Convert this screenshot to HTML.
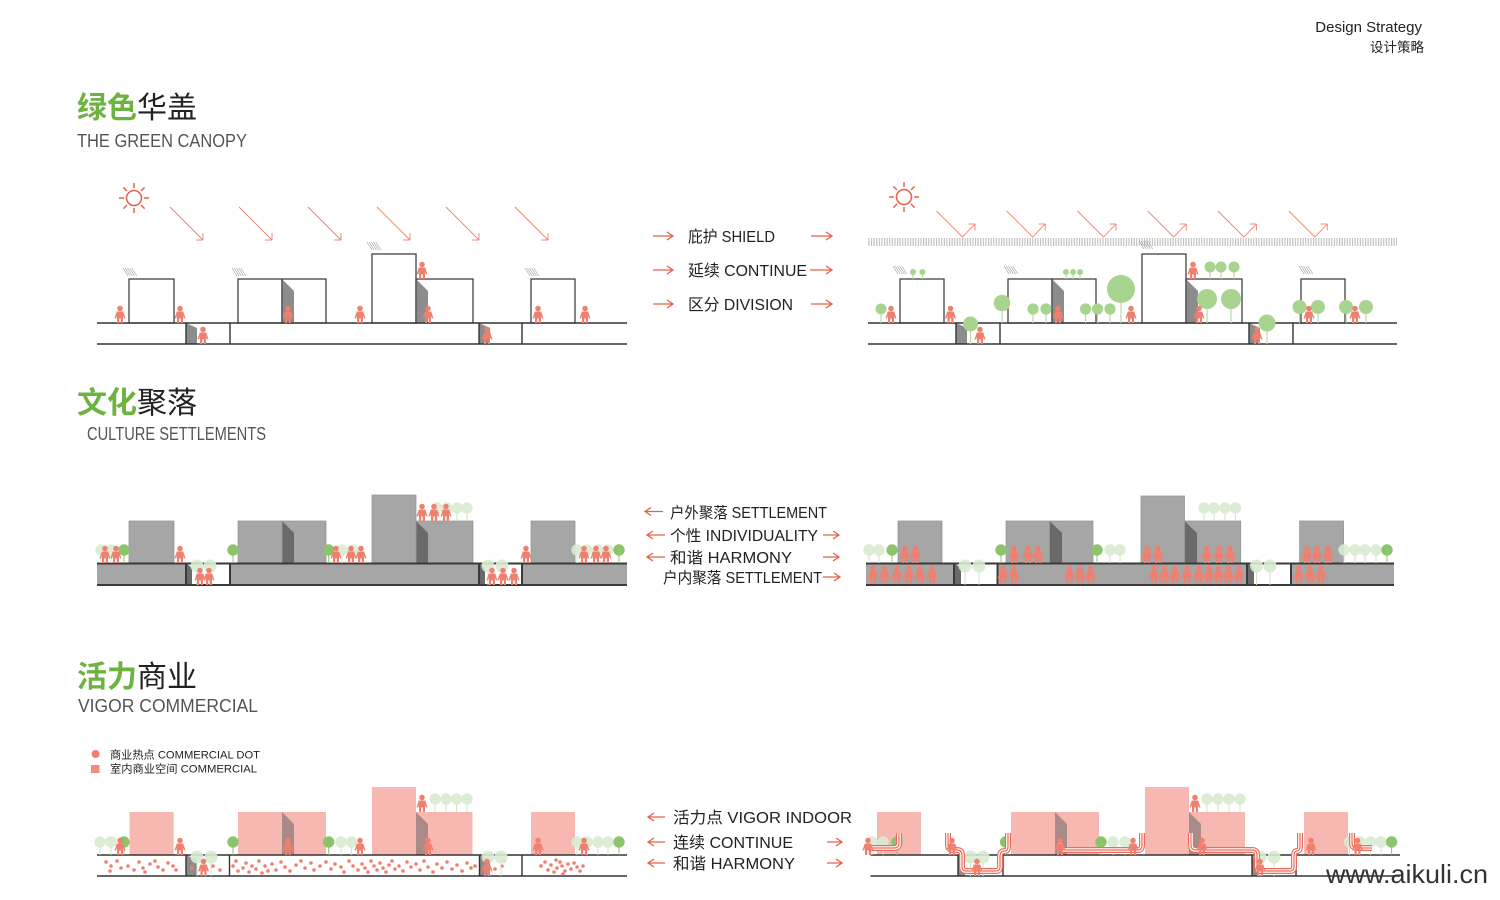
<!DOCTYPE html>
<html><head><meta charset="utf-8"><style>
html,body{margin:0;padding:0;background:#fff;}
svg{display:block;}
text{font-family:"Liberation Sans","Noto Sans CJK SC",sans-serif;}
</style></head><body>
<svg width="1500" height="900" viewBox="0 0 1500 900" xmlns="http://www.w3.org/2000/svg">
<defs>
<g id="p" fill="#ef7f6f"><g transform="scale(1.15)"><circle cx="0" cy="-12.6" r="2.4"/><path d="M-2.8,-10 H2.8 L4.8,-4 H3.3 L2.6,-6.5 V0 H0.7 V-4 H-0.7 V0 H-2.6 V-6.5 L-3.3,-4 H-4.8 Z"/></g></g>
<g id="h" stroke="#9a9a9a" stroke-width="0.6"><line x1="0" y1="0" x2="5" y2="8"/><line x1="2.2" y1="0" x2="7.2" y2="8"/><line x1="4.4" y1="0" x2="9.4" y2="8"/><line x1="6.6" y1="0" x2="11.6" y2="8"/><line x1="8.8" y1="0" x2="13.8" y2="8"/></g>
<g id="tp"><line x1="0" y1="0" x2="0" y2="-9" stroke="#cfe5c3" stroke-width="1"/><circle cy="-13" r="5.7" fill="#d9ebd0" opacity="0.9"/></g>
<g id="td"><line x1="0" y1="0" x2="0" y2="-9" stroke="#8cc46c" stroke-width="1"/><circle cy="-13" r="5.7" fill="#8cc46c"/></g>
<g id="tpit"><line x1="0" y1="0" x2="0" y2="-14" stroke="#cfe5c3" stroke-width="1"/><circle cy="-19" r="6.5" fill="#d9ebd0" opacity="0.9"/></g>
<g id="sun" stroke="#e8604c" stroke-width="1.5" fill="none"><circle r="7.5"/><line x1="0" y1="-10" x2="0" y2="-15"/><line x1="0" y1="10" x2="0" y2="15"/><line x1="10" y1="0" x2="15" y2="0"/><line x1="-10" y1="0" x2="-15" y2="0"/><line x1="7" y1="7" x2="10.6" y2="10.6"/><line x1="-7" y1="7" x2="-10.6" y2="10.6"/><line x1="7" y1="-7" x2="10.6" y2="-10.6"/><line x1="-7" y1="-7" x2="-10.6" y2="-10.6"/></g>
<g id="ra" stroke="#ef7f6f" stroke-width="0.9" fill="none"><line x1="0" y1="0" x2="33" y2="33"/><line x1="26" y1="33" x2="33" y2="33"/><line x1="33" y1="26" x2="33" y2="33"/></g>
<g id="rr" stroke="#ef7f6f" stroke-width="0.9" fill="none"><polyline points="0,0 26,26 38.5,13"/><line x1="32" y1="13" x2="38.5" y2="13"/><line x1="38.5" y1="13" x2="38.5" y2="19.5"/></g>
<pattern id="vh" width="2.6" height="10" patternUnits="userSpaceOnUse"><rect x="0" y="0" width="1.1" height="10" fill="#bdbdbd"/></pattern>
</defs>

<!-- header -->
<text x="1422" y="32" font-size="15" fill="#222" text-anchor="end">Design Strategy</text>
<text x="1424" y="52" font-size="13.5" fill="#222" text-anchor="end">设计策略</text>

<!-- titles -->
<text x="77" y="118" font-size="30"><tspan fill="#6db33f" font-weight="bold">绿色</tspan><tspan fill="#222">华盖</tspan></text>
<text x="77" y="147" font-size="18" fill="#555" textLength="170" lengthAdjust="spacingAndGlyphs">THE GREEN CANOPY</text>
<text x="77" y="413" font-size="30"><tspan fill="#6db33f" font-weight="bold">文化</tspan><tspan fill="#222">聚落</tspan></text>
<text x="87" y="440" font-size="18" fill="#555" textLength="179" lengthAdjust="spacingAndGlyphs">CULTURE SETTLEMENTS</text>
<text x="77" y="687" font-size="30"><tspan fill="#6db33f" font-weight="bold">活力</tspan><tspan fill="#222">商业</tspan></text>
<text x="78" y="712" font-size="18" fill="#555" textLength="180" lengthAdjust="spacingAndGlyphs">VIGOR COMMERCIAL</text>

<!-- ============ SECTION 1 LEFT ============ -->
<use href="#sun" x="134" y="198"/>
<use href="#ra" x="170" y="207"/><use href="#ra" x="239" y="207"/><use href="#ra" x="308" y="207"/><use href="#ra" x="377" y="207"/><use href="#ra" x="446" y="207"/><use href="#ra" x="515" y="207"/>
<use href="#h" x="123" y="268"/><use href="#h" x="232" y="268"/><use href="#h" x="367" y="242"/><use href="#h" x="525" y="268"/>
<g fill="#fff" stroke="#333" stroke-width="1.2">
<rect x="129" y="279" width="45" height="44"/><rect x="238" y="279" width="44" height="44"/><rect x="282" y="279" width="44" height="44"/><rect x="372" y="254" width="44" height="69"/><rect x="416" y="279" width="57" height="44"/><rect x="531" y="279" width="44" height="44"/>
</g>
<g fill="#8c8c8c">
<polygon points="282.6,279.6 294,291 294,323 282.6,323"/><polygon points="416.6,279.6 428,291 428,323 416.6,323"/>
<polygon points="186,323 197,328 197,344 186,344"/><polygon points="479,323 490,328 490,344 479,344"/>
</g>
<g stroke="#333" stroke-width="1.4">
<line x1="97" y1="323" x2="627" y2="323"/><line x1="97" y1="344" x2="627" y2="344"/>
<line x1="186" y1="323" x2="186" y2="344"/><line x1="230" y1="323" x2="230" y2="344"/><line x1="479" y1="323" x2="479" y2="344"/><line x1="522" y1="323" x2="522" y2="344"/>
</g>
<use href="#p" x="120" y="323"/><use href="#p" x="180" y="323"/><use href="#p" x="288" y="323"/><use href="#p" x="360" y="323"/><use href="#p" x="428" y="323"/><use href="#p" x="538" y="323"/><use href="#p" x="585" y="323"/>
<use href="#p" x="422" y="279"/><use href="#p" x="203" y="344"/><use href="#p" x="487" y="344"/>

<!-- middle text 1 -->
<g stroke="#e8604c" stroke-width="1.3" fill="none">
<path d="M653,236 H673 M667,232 L673,236 L667,240"/><path d="M811,236 H832 M826,232 L832,236 L826,240"/>
<path d="M653,270 H673 M667,266 L673,270 L667,274"/><path d="M810,270 H832 M826,266 L832,270 L826,274"/>
<path d="M653,304 H673 M667,300 L673,304 L667,308"/><path d="M811,304 H832 M826,300 L832,304 L826,308"/>
</g>
<g font-size="16" fill="#222">
<text x="688" y="242" textLength="87" lengthAdjust="spacingAndGlyphs">庇护 SHIELD</text>
<text x="688" y="276" textLength="119" lengthAdjust="spacingAndGlyphs">延续 CONTINUE</text>
<text x="688" y="310" textLength="105" lengthAdjust="spacingAndGlyphs">区分 DIVISION</text>
</g>

<!-- ============ SECTION 1 RIGHT ============ -->
<use href="#sun" x="904" y="197"/>
<use href="#rr" x="936.5" y="211"/><use href="#rr" x="1006.7" y="211"/><use href="#rr" x="1077.5" y="211"/><use href="#rr" x="1147.7" y="211"/><use href="#rr" x="1217.9" y="211"/><use href="#rr" x="1288.8" y="211"/>
<rect x="868" y="238" width="529" height="8" fill="url(#vh)"/>
<use href="#h" x="893" y="266"/><use href="#h" x="1004" y="266"/><use href="#h" x="1139" y="241"/><use href="#h" x="1299" y="266"/>
<g fill="#fff" stroke="#333" stroke-width="1.2">
<rect x="900" y="279" width="44" height="44"/><rect x="1008" y="279" width="44" height="44"/><rect x="1052" y="279" width="44" height="44"/><rect x="1142" y="254" width="44" height="69"/><rect x="1186" y="279" width="56" height="44"/><rect x="1301" y="279" width="44" height="44"/>
</g>
<g fill="#8c8c8c">
<polygon points="1052.6,279.6 1064,291 1064,323 1052.6,323"/><polygon points="1186.6,279.6 1198,291 1198,323 1186.6,323"/>
<polygon points="956,323 967,328 967,344 956,344"/><polygon points="1249,323 1260,328 1260,344 1249,344"/>
</g>
<g stroke="#333" stroke-width="1.4">
<line x1="868" y1="323" x2="1397" y2="323"/><line x1="868" y1="344" x2="1397" y2="344"/>
<line x1="956" y1="323" x2="956" y2="344"/><line x1="1000" y1="323" x2="1000" y2="344"/><line x1="1249" y1="323" x2="1249" y2="344"/><line x1="1293" y1="323" x2="1293" y2="344"/>
</g>
<g stroke="#b9dca6" stroke-width="1.2">
<line x1="913" y1="272" x2="913" y2="279"/><line x1="922.5" y1="272" x2="922.5" y2="279"/>
<line x1="1066" y1="272" x2="1066" y2="279"/><line x1="1073" y1="272" x2="1073" y2="279"/><line x1="1080" y1="272" x2="1080" y2="279"/>
<line x1="1210" y1="267" x2="1210" y2="279"/><line x1="1221" y1="267" x2="1221" y2="279"/><line x1="1234" y1="267" x2="1234" y2="279"/>
<line x1="881" y1="309" x2="881" y2="323"/><line x1="970.5" y1="324" x2="970.5" y2="344"/><line x1="1002" y1="303" x2="1002" y2="323"/>
<line x1="1033" y1="309" x2="1033" y2="323"/><line x1="1046" y1="309" x2="1046" y2="323"/><line x1="1085.6" y1="309" x2="1085.6" y2="323"/><line x1="1097.5" y1="309" x2="1097.5" y2="323"/><line x1="1110" y1="309" x2="1110" y2="323"/>
<line x1="1121" y1="289" x2="1121" y2="323"/><line x1="1207" y1="299" x2="1207" y2="323"/><line x1="1231" y1="299" x2="1231" y2="323"/><line x1="1267" y1="323" x2="1267" y2="344"/>
<line x1="1299.6" y1="307" x2="1299.6" y2="323"/><line x1="1318" y1="307" x2="1318" y2="323"/><line x1="1346" y1="307" x2="1346" y2="323"/><line x1="1366" y1="307" x2="1366" y2="323"/>
</g>
<g fill="#a8d48f">
<circle cx="913" cy="272" r="3"/><circle cx="922.5" cy="272" r="3"/>
<circle cx="1066" cy="272" r="3"/><circle cx="1073" cy="272" r="3"/><circle cx="1080" cy="272" r="3"/>
<circle cx="1210" cy="267" r="5.5"/><circle cx="1221" cy="267" r="5.5"/><circle cx="1234" cy="267" r="5.5"/>
<circle cx="881" cy="309" r="5.5"/><circle cx="970.5" cy="324" r="7.5"/><circle cx="1002" cy="303" r="8.3"/>
<circle cx="1033" cy="309" r="5.6"/><circle cx="1046" cy="309" r="5.6"/><circle cx="1085.6" cy="309" r="5.6"/><circle cx="1097.5" cy="309" r="5.6"/><circle cx="1110" cy="309" r="5.6"/>
<circle cx="1121" cy="289" r="14"/><circle cx="1207" cy="299" r="10"/><circle cx="1231" cy="299" r="10"/><circle cx="1267" cy="323" r="8.5"/>
<circle cx="1299.6" cy="307" r="7"/><circle cx="1318" cy="307" r="7"/><circle cx="1346" cy="307" r="7"/><circle cx="1366" cy="307" r="7"/>
</g>
<use href="#p" x="891" y="323"/><use href="#p" x="950.5" y="323"/><use href="#p" x="1058" y="323"/><use href="#p" x="1131" y="323"/><use href="#p" x="1199" y="323"/><use href="#p" x="1309" y="323"/><use href="#p" x="1355" y="323"/>
<use href="#p" x="1193" y="279"/><use href="#p" x="980" y="344"/><use href="#p" x="1257" y="344"/>

<!-- ============ SECTION 2 LEFT ============ -->
<g fill="#a6a6a6">
<rect x="97" y="563" width="89" height="22"/><rect x="230" y="563" width="249" height="22"/><rect x="522" y="563" width="105" height="22"/>
<rect x="129" y="521" width="45" height="42"/><rect x="238" y="521" width="88" height="42"/><rect x="372" y="495" width="44" height="68"/><rect x="416" y="521" width="57" height="42"/><rect x="531" y="521" width="44" height="42"/>
</g>
<g fill="#6a6a6a">
<polygon points="282,521 294,533 294,563 282,563"/><polygon points="416,521 428,533 428,563 416,563"/>
<polygon points="186,563 192,568 192,585 186,585"/><polygon points="479,563 485,568 485,585 479,585"/>
</g>
<g stroke="#999" stroke-width="0.8" fill="none">
<rect x="129" y="521" width="45" height="42"/><rect x="238" y="521" width="44" height="42"/><rect x="282" y="521" width="44" height="42"/><rect x="372" y="495" width="44" height="68"/><rect x="416" y="521" width="57" height="42"/><rect x="531" y="521" width="44" height="42"/>
</g>
<g stroke="#3a3a3a" stroke-width="2">
<line x1="97" y1="563.5" x2="627" y2="563.5"/><line x1="97" y1="585" x2="627" y2="585"/>
<line x1="186" y1="563" x2="186" y2="585"/><line x1="230" y1="563" x2="230" y2="585"/><line x1="479" y1="563" x2="479" y2="585"/><line x1="522" y1="563" x2="522" y2="585"/>
</g>
<use href="#tp" x="101" y="563"/><use href="#tp" x="111" y="563"/><use href="#td" x="124" y="563"/>
<use href="#tpit" x="197" y="585"/><use href="#tpit" x="210" y="585"/>
<use href="#td" x="233" y="563"/><use href="#td" x="328.7" y="563"/><use href="#tp" x="342" y="563"/><use href="#tp" x="353" y="563"/>
<use href="#tp" x="437" y="521"/><use href="#tp" x="447" y="521"/><use href="#tp" x="457" y="521"/><use href="#tp" x="467" y="521"/>
<use href="#tpit" x="488" y="585"/><use href="#tpit" x="502" y="585"/>
<use href="#tp" x="577" y="563"/><use href="#tp" x="587" y="563"/><use href="#tp" x="598" y="563"/><use href="#tp" x="608" y="563"/><use href="#td" x="619" y="563"/>
<use href="#p" x="105" y="563"/><use href="#p" x="116" y="563"/><use href="#p" x="180" y="563"/><use href="#p" x="336" y="563"/><use href="#p" x="351" y="563"/><use href="#p" x="361" y="563"/><use href="#p" x="526" y="563"/><use href="#p" x="584" y="563"/><use href="#p" x="596" y="563"/><use href="#p" x="606" y="563"/>
<use href="#p" x="422" y="521"/><use href="#p" x="434" y="521"/><use href="#p" x="446" y="521"/>
<use href="#p" x="200" y="585"/><use href="#p" x="209" y="585"/><use href="#p" x="492" y="585"/><use href="#p" x="503" y="585"/><use href="#p" x="514" y="585"/>

<!-- middle text 2 -->
<g stroke="#e8604c" stroke-width="1.3" fill="none">
<path d="M645,511.5 H663 M651,507.5 L645,511.5 L651,515.5"/>
<path d="M647,535 H665 M653,531 L647,535 L653,539"/><path d="M823,535 H839 M833,531 L839,535 L833,539"/>
<path d="M647,557 H665 M653,553 L647,557 L653,561"/><path d="M823,557 H839 M833,553 L839,557 L833,561"/>
<path d="M823,577 H840 M834,573 L840,577 L834,581"/>
</g>
<g font-size="15.5" fill="#222">
<text x="670" y="518" textLength="157" lengthAdjust="spacingAndGlyphs">户外聚落 SETTLEMENT</text>
<text x="670" y="541" textLength="148" lengthAdjust="spacingAndGlyphs">个性 INDIVIDUALITY</text>
<text x="670" y="563" textLength="122" lengthAdjust="spacingAndGlyphs">和谐 HARMONY</text>
<text x="663" y="583" textLength="159" lengthAdjust="spacingAndGlyphs">户内聚落 SETTLEMENT</text>
</g>

<!-- ============ SECTION 2 RIGHT ============ -->
<g fill="#a6a6a6">
<rect x="866" y="563" width="88" height="22"/><rect x="997.5" y="563" width="249.5" height="22"/><rect x="1291" y="563" width="103" height="22"/>
<rect x="898" y="521" width="44" height="42"/><rect x="1006" y="521" width="87" height="42"/><rect x="1141" y="496" width="43.5" height="67"/><rect x="1184.5" y="521" width="56.2" height="42"/><rect x="1299.6" y="521" width="44" height="42"/>
</g>
<g fill="#6a6a6a">
<polygon points="1049.5,521 1062,533 1062,563 1049.5,563"/><polygon points="1184.5,521 1197,533 1197,563 1184.5,563"/>
<polygon points="954,563 961,568 961,585 954,585"/><polygon points="1247,563 1254,568 1254,585 1247,585"/>
</g>
<g stroke="#999" stroke-width="0.8" fill="none">
<rect x="898" y="521" width="44" height="42"/><rect x="1006" y="521" width="43.5" height="42"/><rect x="1049.5" y="521" width="43.5" height="42"/><rect x="1141" y="496" width="43.5" height="67"/><rect x="1184.5" y="521" width="56.2" height="42"/><rect x="1299.6" y="521" width="44" height="42"/>
</g>
<g stroke="#3a3a3a" stroke-width="2">
<line x1="866" y1="563.5" x2="1394" y2="563.5"/><line x1="866" y1="585" x2="1394" y2="585"/>
<line x1="954" y1="563" x2="954" y2="585"/><line x1="997.5" y1="563" x2="997.5" y2="585"/><line x1="1247" y1="563" x2="1247" y2="585"/><line x1="1291" y1="563" x2="1291" y2="585"/>
</g>
<use href="#tp" x="869" y="563"/><use href="#tp" x="879" y="563"/><use href="#td" x="892" y="563"/>
<use href="#td" x="1001" y="563"/><use href="#td" x="1097" y="563"/><use href="#tp" x="1110" y="563"/><use href="#tp" x="1120" y="563"/>
<use href="#tp" x="1204" y="521"/><use href="#tp" x="1214" y="521"/><use href="#tp" x="1225" y="521"/><use href="#tp" x="1235.5" y="521"/>
<use href="#tpit" x="965" y="585"/><use href="#tpit" x="979" y="585"/><use href="#tpit" x="1256.5" y="585"/><use href="#tpit" x="1270" y="585"/>
<use href="#tp" x="1344" y="563"/><use href="#tp" x="1355" y="563"/><use href="#tp" x="1365" y="563"/><use href="#tp" x="1376" y="563"/><use href="#td" x="1387" y="563"/>
<use href="#p" x="905" y="563"/><use href="#p" x="915.5" y="563"/><use href="#p" x="1014" y="563"/><use href="#p" x="1028" y="563"/><use href="#p" x="1038" y="563"/><use href="#p" x="1147" y="563"/><use href="#p" x="1158" y="563"/><use href="#p" x="1207" y="563"/><use href="#p" x="1219" y="563"/><use href="#p" x="1230" y="563"/><use href="#p" x="1307" y="563"/><use href="#p" x="1317" y="563"/><use href="#p" x="1328" y="563"/>
<use href="#p" x="873" y="583"/><use href="#p" x="884.5" y="583"/><use href="#p" x="897" y="583"/><use href="#p" x="909" y="583"/><use href="#p" x="920" y="583"/><use href="#p" x="932" y="583"/>
<use href="#p" x="1003" y="583"/><use href="#p" x="1014" y="583"/><use href="#p" x="1069.5" y="583"/><use href="#p" x="1080" y="583"/><use href="#p" x="1090.5" y="583"/>
<use href="#p" x="1154" y="583"/><use href="#p" x="1164.5" y="583"/><use href="#p" x="1175" y="583"/><use href="#p" x="1187" y="583"/><use href="#p" x="1198.6" y="583"/><use href="#p" x="1209" y="583"/><use href="#p" x="1218.6" y="583"/><use href="#p" x="1228.4" y="583"/><use href="#p" x="1239" y="583"/>
<use href="#p" x="1298.6" y="583"/><use href="#p" x="1310" y="583"/><use href="#p" x="1321" y="583"/>

<!-- ============ SECTION 3 LEGEND ============ -->
<circle cx="95.6" cy="754" r="4" fill="#ef7f6f"/>
<rect x="91" y="765" width="8.5" height="8" fill="#ef8a7c"/>
<text x="110" y="758.5" font-size="11" fill="#222" textLength="150" lengthAdjust="spacingAndGlyphs">商业热点 COMMERCIAL DOT</text>
<text x="110" y="772.5" font-size="11" fill="#222" textLength="147" lengthAdjust="spacingAndGlyphs">室内商业空间 COMMERCIAL</text>

<!-- ============ SECTION 3 LEFT ============ -->
<g fill="#f6b8b1">
<rect x="129.6" y="812" width="44" height="43"/><rect x="238" y="812" width="88" height="43"/><rect x="372" y="787" width="44" height="68"/><rect x="416" y="812" width="56.5" height="43"/><rect x="531" y="812" width="44" height="43"/>
</g>
<g fill="#a98a89">
<polygon points="282,812 294,824 294,855 282,855"/><polygon points="416,812 428,824 428,855 416,855"/>
</g>
<g fill="#8c8c8c">
<polygon points="186,855 197,860 197,876 186,876"/><polygon points="479.5,855 490,860 490,876 479.5,876"/>
</g>
<g stroke="#333" stroke-width="1.4">
<line x1="97" y1="855" x2="627" y2="855"/><line x1="97" y1="876" x2="627" y2="876"/>
<line x1="186" y1="855" x2="186" y2="876"/><line x1="229.5" y1="855" x2="229.5" y2="876"/><line x1="479.5" y1="855" x2="479.5" y2="876"/><line x1="522" y1="855" x2="522" y2="876"/>
</g>
<g fill="#ef7f6f">
<circle cx="106" cy="862" r="1.8"/><circle cx="111" cy="866" r="1.8"/><circle cx="117" cy="861" r="1.8"/><circle cx="121" cy="868" r="1.8"/><circle cx="110" cy="871" r="1.8"/><circle cx="128" cy="866" r="1.8"/><circle cx="139" cy="862" r="1.8"/><circle cx="143" cy="868" r="1.8"/><circle cx="150" cy="864" r="1.8"/><circle cx="155" cy="861" r="1.8"/><circle cx="158" cy="867" r="1.8"/><circle cx="163" cy="870" r="1.8"/><circle cx="168" cy="863" r="1.8"/><circle cx="173" cy="866" r="1.8"/><circle cx="176" cy="870" r="1.8"/><circle cx="145" cy="872" r="1.8"/><circle cx="134" cy="870" r="1.8"/>
<circle cx="192" cy="868" r="1.8"/><circle cx="213" cy="866" r="1.8"/><circle cx="220" cy="870" r="1.8"/>
<circle cx="233" cy="866" r="1.8"/><circle cx="236" cy="861" r="1.8"/><circle cx="238" cy="871" r="1.8"/><circle cx="243" cy="868" r="1.8"/><circle cx="246" cy="863" r="1.8"/><circle cx="249" cy="872" r="1.8"/><circle cx="252" cy="866" r="1.8"/><circle cx="256" cy="869" r="1.8"/><circle cx="259" cy="861" r="1.8"/><circle cx="262" cy="873" r="1.8"/><circle cx="265" cy="866" r="1.8"/><circle cx="268" cy="871" r="1.8"/><circle cx="272" cy="864" r="1.8"/><circle cx="276" cy="870" r="1.8"/><circle cx="281" cy="862" r="1.8"/><circle cx="285" cy="867" r="1.8"/><circle cx="290" cy="871" r="1.8"/><circle cx="296" cy="865" r="1.8"/><circle cx="301" cy="861" r="1.8"/><circle cx="305" cy="868" r="1.8"/><circle cx="311" cy="863" r="1.8"/><circle cx="314" cy="870" r="1.8"/><circle cx="320" cy="866" r="1.8"/><circle cx="326" cy="862" r="1.8"/><circle cx="331" cy="869" r="1.8"/><circle cx="335" cy="864" r="1.8"/><circle cx="341" cy="867" r="1.8"/><circle cx="344" cy="872" r="1.8"/><circle cx="349" cy="861" r="1.8"/><circle cx="353" cy="866" r="1.8"/><circle cx="358" cy="870" r="1.8"/><circle cx="362" cy="864" r="1.8"/><circle cx="365" cy="868" r="1.8"/><circle cx="368" cy="872" r="1.8"/><circle cx="371" cy="861" r="1.8"/><circle cx="374" cy="866" r="1.8"/><circle cx="377" cy="870" r="1.8"/><circle cx="380" cy="863" r="1.8"/><circle cx="383" cy="868" r="1.8"/><circle cx="386" cy="872" r="1.8"/><circle cx="389" cy="865" r="1.8"/><circle cx="392" cy="861" r="1.8"/><circle cx="395" cy="869" r="1.8"/><circle cx="399" cy="866" r="1.8"/><circle cx="403" cy="871" r="1.8"/><circle cx="407" cy="862" r="1.8"/><circle cx="411" cy="867" r="1.8"/><circle cx="416" cy="864" r="1.8"/><circle cx="420" cy="870" r="1.8"/><circle cx="424" cy="861" r="1.8"/><circle cx="428" cy="867" r="1.8"/><circle cx="433" cy="872" r="1.8"/><circle cx="437" cy="864" r="1.8"/><circle cx="442" cy="868" r="1.8"/><circle cx="447" cy="862" r="1.8"/><circle cx="452" cy="869" r="1.8"/><circle cx="457" cy="865" r="1.8"/><circle cx="462" cy="871" r="1.8"/><circle cx="467" cy="863" r="1.8"/><circle cx="471" cy="868" r="1.8"/><circle cx="475" cy="866" r="1.8"/>
<circle cx="495" cy="869" r="1.8"/><circle cx="502" cy="866" r="1.8"/><circle cx="504" cy="861" r="1.8"/>
<circle cx="541" cy="866" r="1.8"/><circle cx="545" cy="862" r="1.8"/><circle cx="548" cy="870" r="1.8"/><circle cx="551" cy="865" r="1.8"/><circle cx="554" cy="872" r="1.8"/><circle cx="557" cy="868" r="1.8"/><circle cx="560" cy="862" r="1.8"/><circle cx="562" cy="866" r="1.8"/><circle cx="565" cy="871" r="1.8"/><circle cx="568" cy="864" r="1.8"/><circle cx="571" cy="869" r="1.8"/><circle cx="574" cy="863" r="1.8"/><circle cx="577" cy="867" r="1.8"/><circle cx="580" cy="871" r="1.8"/><circle cx="583" cy="866" r="1.8"/><circle cx="556" cy="860" r="1.8"/><circle cx="563" cy="874" r="1.8"/>
</g>
<use href="#tp" x="100" y="855"/><use href="#tp" x="111" y="855"/><use href="#td" x="124" y="855"/>
<use href="#tpit" x="197" y="876"/><use href="#tpit" x="211" y="876"/>
<use href="#td" x="233" y="855"/><use href="#td" x="328.7" y="855"/><use href="#tp" x="341" y="855"/><use href="#tp" x="351.6" y="855"/>
<use href="#tp" x="435" y="812"/><use href="#tp" x="446" y="812"/><use href="#tp" x="456.5" y="812"/><use href="#tp" x="467" y="812"/>
<use href="#tpit" x="488" y="876"/><use href="#tpit" x="501" y="876"/>
<use href="#tp" x="577" y="855"/><use href="#tp" x="587" y="855"/><use href="#tp" x="598" y="855"/><use href="#tp" x="608" y="855"/><use href="#td" x="619" y="855"/>
<use href="#p" x="120" y="855"/><use href="#p" x="180" y="855"/><use href="#p" x="288" y="855"/><use href="#p" x="360" y="855"/><use href="#p" x="428" y="855"/><use href="#p" x="538" y="855"/><use href="#p" x="584" y="855"/>
<use href="#p" x="422" y="812"/><use href="#p" x="203.5" y="876"/><use href="#p" x="487" y="876"/>

<!-- middle text 3 -->
<g stroke="#e8604c" stroke-width="1.3" fill="none">
<path d="M648,817 H665 M654,813 L648,817 L654,821"/>
<path d="M648,842 H665 M654,838 L648,842 L654,846"/><path d="M827,842 H842 M836,838 L842,842 L836,846"/>
<path d="M648,863 H665 M654,859 L648,863 L654,867"/><path d="M827,863 H842 M836,859 L842,863 L836,867"/>
</g>
<g font-size="16" fill="#222">
<text x="673" y="823" textLength="179" lengthAdjust="spacingAndGlyphs">活力点 VIGOR INDOOR</text>
<text x="673" y="848" textLength="120" lengthAdjust="spacingAndGlyphs">连续 CONTINUE</text>
<text x="673" y="869" textLength="122" lengthAdjust="spacingAndGlyphs">和谐 HARMONY</text>
</g>

<!-- ============ SECTION 3 RIGHT ============ -->
<g fill="#f6b8b1">
<rect x="877" y="812" width="44" height="43"/><rect x="1011" y="812" width="88" height="43"/><rect x="1145" y="787" width="44" height="68"/><rect x="1189" y="812" width="56" height="43"/><rect x="1304" y="812" width="44" height="43"/>
</g>
<g fill="#a98a89">
<polygon points="1055,812 1067,824 1067,855 1055,855"/><polygon points="1189,812 1201,824 1201,855 1189,855"/>
</g>
<g fill="#8c8c8c">
<polygon points="958,855 965,860 965,876 958,876"/><polygon points="1252,855 1259,860 1259,876 1252,876"/>
</g>
<g stroke="#333" stroke-width="1.4">
<line x1="870.5" y1="855" x2="1400" y2="855"/><line x1="870.5" y1="876" x2="1400" y2="876"/>
<line x1="958" y1="855" x2="958" y2="876"/><line x1="1003" y1="855" x2="1003" y2="876"/><line x1="1252" y1="855" x2="1252" y2="876"/><line x1="1296" y1="855" x2="1296" y2="876"/>
</g>
<use href="#tp" x="872" y="855"/><use href="#tp" x="883" y="855"/><use href="#td" x="897" y="855"/>
<use href="#tpit" x="970.5" y="876"/><use href="#tpit" x="983" y="876"/>
<use href="#td" x="1005.6" y="855"/><use href="#td" x="1101" y="855"/><use href="#tp" x="1113" y="855"/><use href="#tp" x="1125" y="855"/>
<use href="#tp" x="1207" y="812"/><use href="#tp" x="1218" y="812"/><use href="#tp" x="1229" y="812"/><use href="#tp" x="1240" y="812"/>
<use href="#tpit" x="1260" y="876"/><use href="#tpit" x="1274" y="876"/>
<use href="#tp" x="1349.5" y="855"/><use href="#tp" x="1360" y="855"/><use href="#tp" x="1370.5" y="855"/><use href="#tp" x="1381" y="855"/><use href="#td" x="1391.6" y="855"/>
<g fill="none" stroke-linejoin="round">
<g stroke="#ee6a5a" stroke-width="6">
<path d="M870,848 H894 Q899,848 899,843 V833"/>
<path d="M948,833 V845 Q948,850 953,850 H957 Q962,850 962,855 V867 Q962,871 966,871 H996 Q1000,871 1000,867 V856 Q1000,851 1005,851 Q1008,851 1008,846 V833"/>
<path d="M1060,842 V845 Q1060,850 1065,850 H1138 Q1142,850 1142,845 V833"/>
<path d="M1191,833 V845 Q1191,850 1196,850 H1252 Q1257,850 1257,855 V867 Q1257,871 1261,871 H1290 Q1294,871 1294,867 V856 Q1294,851 1297,851 Q1300,851 1300,846 V833"/>
<path d="M1352,833 V843 Q1352,848 1357,848 H1372"/>
</g>
<g stroke="#fff" stroke-width="3.6">
<path d="M870,848 H894 Q899,848 899,843 V833"/>
<path d="M948,833 V845 Q948,850 953,850 H957 Q962,850 962,855 V867 Q962,871 966,871 H996 Q1000,871 1000,867 V856 Q1000,851 1005,851 Q1008,851 1008,846 V833"/>
<path d="M1060,842 V845 Q1060,850 1065,850 H1138 Q1142,850 1142,845 V833"/>
<path d="M1191,833 V845 Q1191,850 1196,850 H1252 Q1257,850 1257,855 V867 Q1257,871 1261,871 H1290 Q1294,871 1294,867 V856 Q1294,851 1297,851 Q1300,851 1300,846 V833"/>
<path d="M1352,833 V843 Q1352,848 1357,848 H1372"/>
</g>
<g stroke="#ee6a5a" stroke-width="1.2">
<path d="M870,848 H894 Q899,848 899,843 V833"/>
<path d="M948,833 V845 Q948,850 953,850 H957 Q962,850 962,855 V867 Q962,871 966,871 H996 Q1000,871 1000,867 V856 Q1000,851 1005,851 Q1008,851 1008,846 V833"/>
<path d="M1060,842 V845 Q1060,850 1065,850 H1138 Q1142,850 1142,845 V833"/>
<path d="M1191,833 V845 Q1191,850 1196,850 H1252 Q1257,850 1257,855 V867 Q1257,871 1261,871 H1290 Q1294,871 1294,867 V856 Q1294,851 1297,851 Q1300,851 1300,846 V833"/>
<path d="M1352,833 V843 Q1352,848 1357,848 H1372"/>
</g>
</g>
<use href="#p" x="868" y="855"/><use href="#p" x="952" y="855"/><use href="#p" x="1060" y="855"/><use href="#p" x="1133" y="855"/><use href="#p" x="1202" y="855"/><use href="#p" x="1311" y="855"/><use href="#p" x="1357.5" y="855"/>
<use href="#p" x="1195" y="812"/><use href="#p" x="977" y="876"/><use href="#p" x="1260" y="876"/>

<!-- watermark -->
<text x="1326" y="883" font-size="26" fill="#333" textLength="162" lengthAdjust="spacingAndGlyphs">www.aikuli.cn</text>
</svg>
</body></html>
